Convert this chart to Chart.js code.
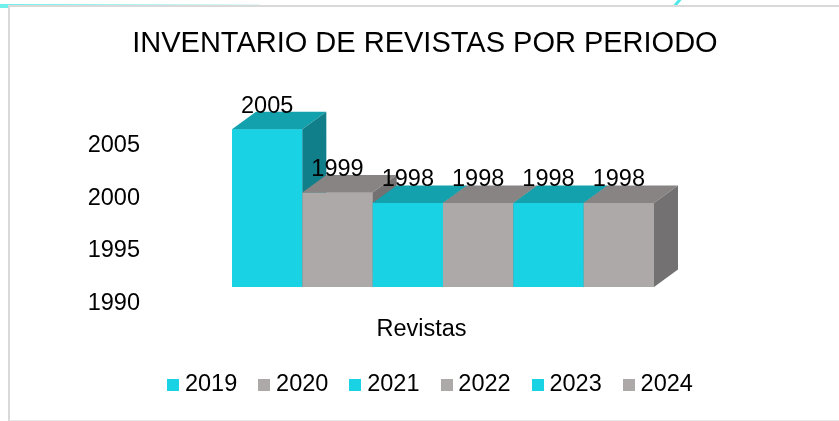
<!DOCTYPE html>
<html>
<head>
<meta charset="utf-8">
<script src="https://cdn.jsdelivr.net/npm/chart.js@4.4.1/dist/chart.umd.min.js"></script>
<style>
  body { margin: 0; background: #fff; }
  #wrap { position: relative; width: 839px; height: 421px; overflow: hidden; }
  #frame { position: absolute; left: 8px; top: 5px; width: 840px; height: 413px;
           border-left: 2px solid #d9d9d9; border-top: 2px solid #d9d9d9; border-bottom: 1px solid #e8e8e8; }
  #cyanTop { position: absolute; left: 0; top: 4px; width: 260px; height: 1px;
             background: linear-gradient(to right, #6ff0ea, #e6f7f7); }
  #cyanCorner { position: absolute; left: 0; top: 4px; width: 8px; height: 4px; background: #6ff0ea; }
  #cyanDiag { position: absolute; left: 676px; top: -2px; width: 3px; height: 9px; background: #4fe8ea;
              transform: rotate(40deg); }
  canvas { position: absolute; left: 0; top: 0; }
</style>
</head>
<body>
<div id="wrap">
  <div id="cyanTop"></div>
  <div id="cyanCorner"></div>
  <div id="cyanDiag"></div>
  <div id="frame"></div>
  <canvas id="grafico" width="839" height="421"></canvas>
</div>
<script>
// datos
var categorias = ["Revistas"];
var periodos = ["2019", "2020", "2021", "2022", "2023", "2024"];
var valores = [2005, 1999, 1998, 1998, 1998, 1998];
var ticksY = [1990, 1995, 2000, 2005];

var cian = { frente: "#19d3e5", arriba: "#13a1ad", lado: "#117f8a" };
var gris = { frente: "#ada9a8", arriba: "#888483", lado: "#737171" };
var fuente = "'Liberation Sans', Arial, sans-serif";

var colores = periodos.map(function(p, i) { return i % 2 == 0 ? cian : gris; });

// cuadradito de la leyenda (asi el texto queda pegado como en excel)
function cuadro(color) {
  var c = document.createElement("canvas");
  c.width = 12; c.height = 12;
  var g = c.getContext("2d");
  g.fillStyle = color;
  g.fillRect(0, 0, 12, 12);
  return c;
}

// dibuja cada barra con su cara superior y lateral (efecto 3D)
var barras3D = {
  id: "barras3D",
  afterDatasetsDraw: function(chart) {
    var ctx = chart.ctx;
    var dx = 24, dy = -17.5;
    ctx.save();
    for (var i = 0; i < chart.data.datasets.length; i++) {
      var bar = chart.getDatasetMeta(i).data[0];
      var c = colores[i];
      var x0 = bar.x - bar.width / 2, x1 = bar.x + bar.width / 2;
      var top = bar.y, base = bar.base;
      ctx.fillStyle = c.frente;
      ctx.fillRect(x0, top, x1 - x0, base - top);
      ctx.fillStyle = c.arriba;
      ctx.beginPath();
      ctx.moveTo(x0, top); ctx.lineTo(x1, top); ctx.lineTo(x1 + dx, top + dy); ctx.lineTo(x0 + dx, top + dy);
      ctx.closePath(); ctx.fill();
      ctx.fillStyle = c.lado;
      ctx.beginPath();
      ctx.moveTo(x1, top); ctx.lineTo(x1 + dx, top + dy); ctx.lineTo(x1 + dx, base + dy); ctx.lineTo(x1, base);
      ctx.closePath(); ctx.fill();
    }
    // etiquetas de valor
    ctx.fillStyle = "#000";
    ctx.font = "23.5px " + fuente;
    ctx.textAlign = "center";
    ctx.textBaseline = "middle";
    for (var j = 0; j < chart.data.datasets.length; j++) {
      var b = chart.getDatasetMeta(j).data[0];
      ctx.fillText(String(chart.data.datasets[j].data[0]), b.x, b.y - 23);
    }
    ctx.restore();
  }
};

var datasets = periodos.map(function(p, i) {
  return {
    label: p,
    data: [valores[i]],
    base: ticksY[0],
    backgroundColor: colores[i].frente,
    pointStyle: cuadro(colores[i].frente),
    borderWidth: 0,
    barPercentage: 1,
    categoryPercentage: 0.8683
  };
});

var ctx = document.getElementById("grafico").getContext("2d");
var grafico = new Chart(ctx, {
  type: "bar",
  data: { labels: categorias, datasets: datasets },
  options: {
    responsive: false,
    animation: false,
    layout: { padding: { left: 35, right: 8, top: 0, bottom: 14.25 } },
    scales: {
      y: {
        min: ticksY[0],
        max: ticksY[ticksY.length - 1],
        afterBuildTicks: function(axis) { axis.ticks = ticksY.map(function(v) { return { value: v }; }); },
        afterFit: function(axis) { axis.width = 165; },
        grid: { display: false, drawTicks: false },
        border: { display: false },
        ticks: {
          color: "#000", font: { family: fuente, size: 23.5 }, padding: 60, labelOffset: 16.5,
          callback: function(v) { return String(v); }
        }
      },
      // eje vacio a la derecha, solo reserva el espacio del fondo 3D
      derecha: {
        position: "right",
        display: true,
        afterFit: function(axis) { axis.width = 145; },
        grid: { display: false, drawTicks: false },
        border: { display: false },
        ticks: { display: false }
      },
      x: {
        afterFit: function(axis) { axis.height = 59.25; },
        grid: { display: false, drawTicks: false },
        border: { display: false },
        ticks: { color: "#000", font: { family: fuente, size: 23.5 }, padding: 28, labelOffset: -21.5 }
      }
    },
    plugins: {
      title: {
        display: true,
        text: "INVENTARIO DE REVISTAS POR PERIODO\u00a0\u00a0",
        color: "#000",
        font: { family: fuente, size: 29, weight: "normal" },
        padding: { top: 27, bottom: 67.5 }
      },
      legend: {
        position: "bottom",
        labels: {
          color: "#000", font: { family: fuente, size: 23.5 },
          usePointStyle: true, pointStyleWidth: 0.1, boxHeight: 12, padding: 27
        }
      },
      tooltip: { enabled: false }
    }
  },
  plugins: [barras3D]
});
</script>
</body>
</html>
